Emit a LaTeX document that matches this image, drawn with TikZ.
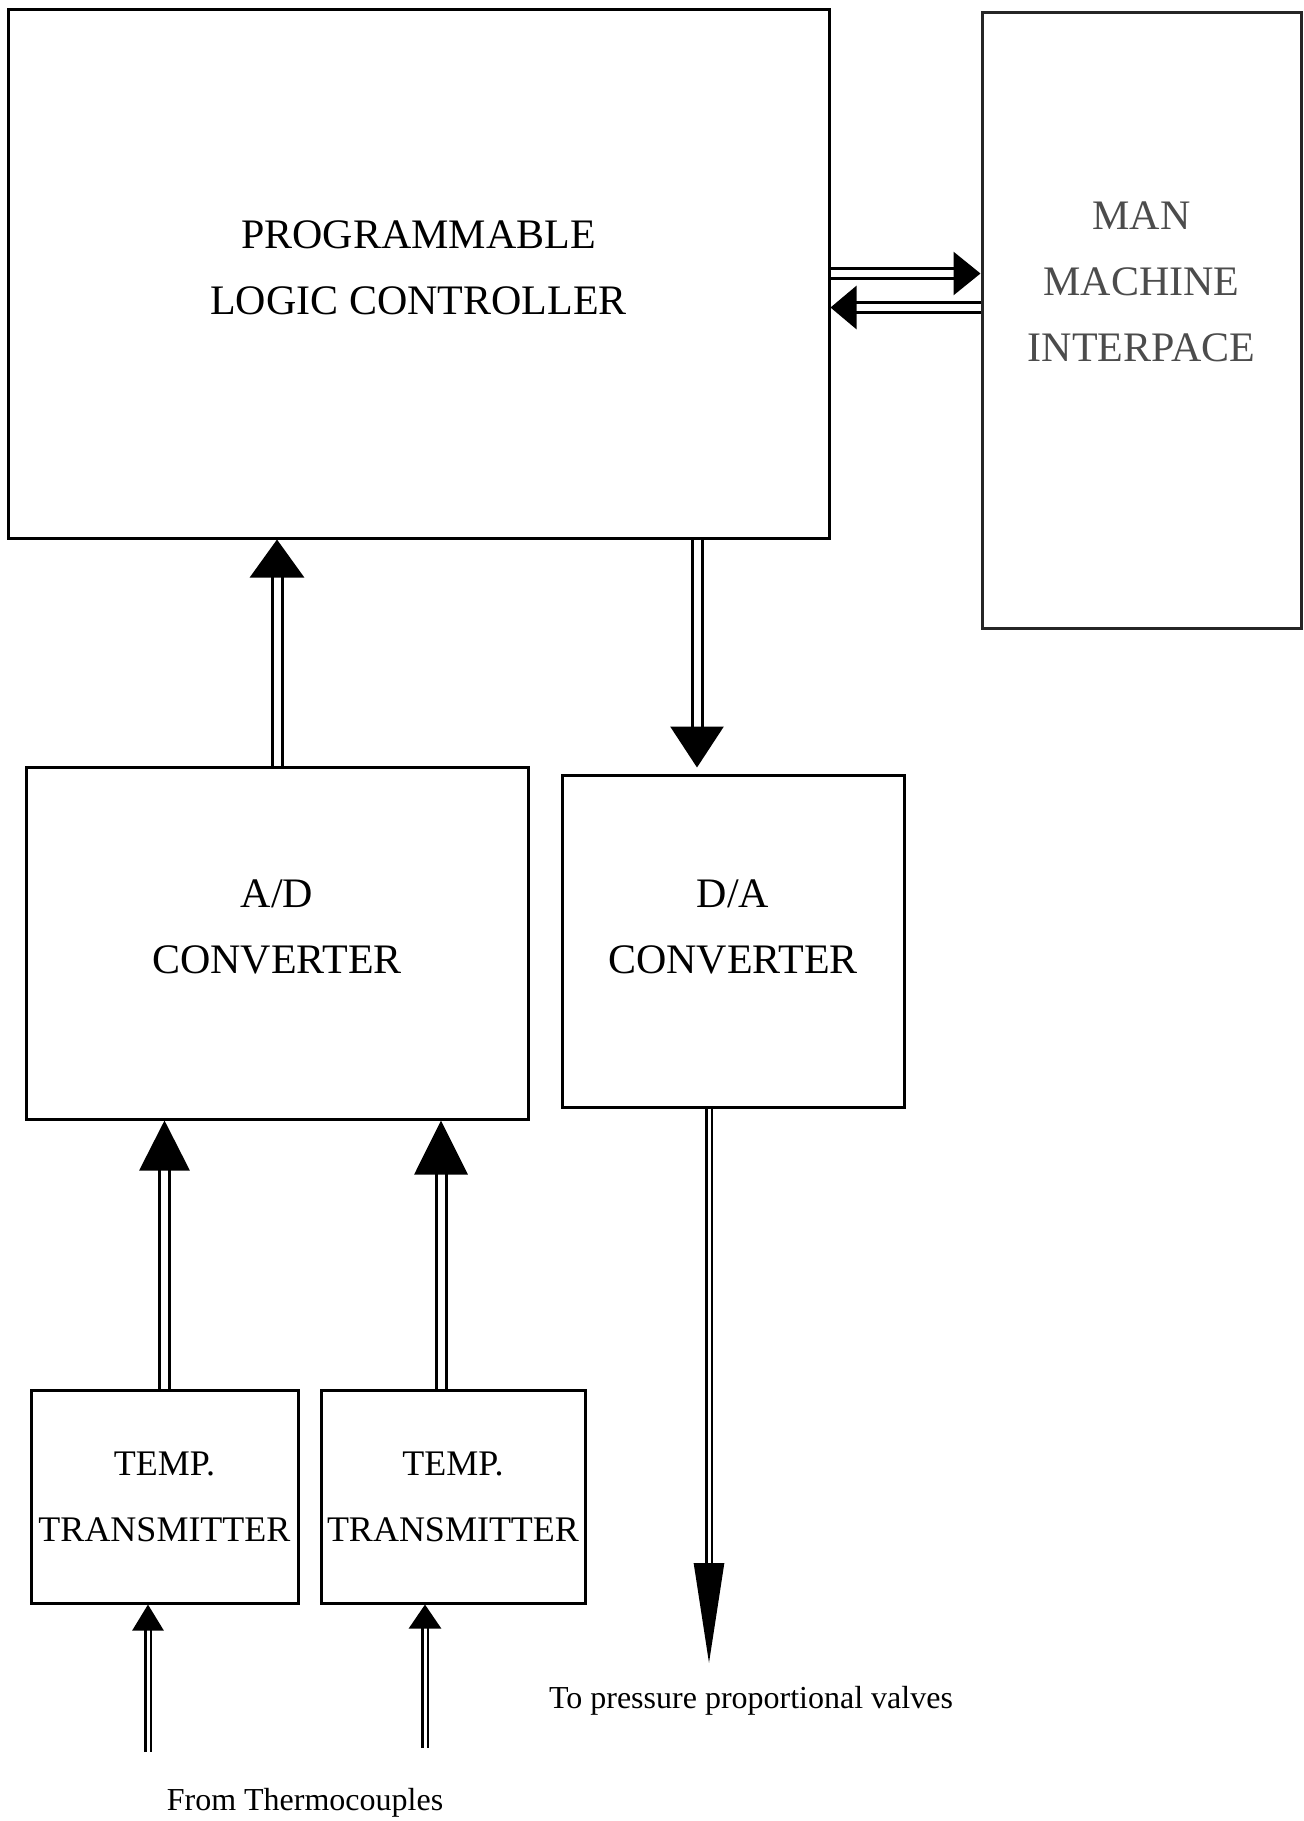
\documentclass[tikz,border=0pt]{standalone}
\usepackage{fontspec}
\setmainfont{Liberation Serif}
\usetikzlibrary{arrows.meta, positioning}

\begin{document}
\begin{tikzpicture}[
    x=0.5pt, y=-0.5pt,
    kotak/.style={draw, line width=1.5pt, inner sep=0pt},
    teks/.style={align=center, font=\fontsize{21}{33}\selectfont},
    kecil/.style={font=\fontsize{16}{20}\selectfont},
    panah/.style 2 args={double, double distance=3.5pt, line width=1.5pt,
                         -{Triangle[length=#1, width=#2]}},
    panahkecil/.style 2 args={double, double distance=1.5pt, line width=1.3pt,
                              -{Triangle[length=#1, width=#2]}}
  ]
    \useasboundingbox (0,0) rectangle (1303,1821);

    % kotak utama
    \node[kotak, minimum width=410.5pt, minimum height=264.5pt] (plc) at (418.5,273.5) {};
    \node[kotak, draw=black!85, minimum width=159.5pt, minimum height=308pt] (mmi) at (1141.5,320) {};
    \node[kotak, minimum width=251pt, minimum height=176pt] (ad) at (277,943) {};
    \node[kotak, minimum width=171pt, minimum height=166pt] (da) at (733,941) {};
    \node[kotak, minimum width=133.5pt, minimum height=106.5pt] (tt1) at (164.5,1496.5) {};
    \node[kotak, minimum width=132pt, minimum height=106.5pt] (tt2) at (453,1496.5) {};

    \node[teks] (plcteks) at ([yshift=3pt]plc.center) {PROGRAMMABLE\\LOGIC CONTROLLER};
    \node[teks, text=black!70] (mmiteks) at ([yshift=19pt]mmi.center) {MAN\\MACHINE\\INTERPACE};
    \node[teks] (adteks) at ([yshift=8pt]ad.center) {A/D\\CONVERTER};
    \node[teks] (dateks) at ([yshift=7pt]da.center) {D/A\\CONVERTER};
    \node[teks, font=\fontsize{18}{33}\selectfont] (tt1teks) at (tt1.center) {TEMP.\\TRANSMITTER};
    \node[teks, font=\fontsize{18}{33}\selectfont] (tt2teks) at (tt2.center) {TEMP.\\TRANSMITTER};

    % ujung bebas
    \coordinate (termo1) at (148,1752);
    \coordinate (termo2) at (425,1748);
    \coordinate (katup) at (709,1663);
    \node[kecil] (dari) at (305,1803) {From Thermocouples};
    \node[kecil] (ke) at (751,1701) {To pressure proportional valves};

    \coordinate (dain) at ([xshift=-18pt, yshift=3pt]da.north);
    \coordinate (balik) at ([yshift=-17pt]plc.east);
    \coordinate (tt2out) at ([xshift=-6pt]tt2.north);
    \coordinate (daout) at ([xshift=-12pt]da.south);

    % sinyal
    \draw[panah={19pt}{27pt}] (ad.north) -- (ad.north |- plc.south);
    \draw[panah={20.5pt}{26.5pt}] (dain |- plc.south) -- (dain);
    \draw[panah={13.5pt}{21.5pt}] (plc.east) -- (plc.east -| mmi.west);
    \draw[panah={13pt}{21.5pt}] (balik -| mmi.west) -- (balik);
    \draw[panah={25pt}{25pt}] (tt1.north) -- (tt1.north |- ad.south);
    \draw[panah={27pt}{26.5pt}] (tt2out) -- (tt2out |- ad.south);
    \draw[panahkecil={13pt}{15.5pt}] (termo1) -- (termo1 |- tt1.south);
    \draw[panahkecil={12pt}{16pt}] (termo2) -- (termo2 |- tt2.south);
    \draw[panahkecil={50pt}{15pt}] (daout) -- (katup);
  \end{tikzpicture}
\end{document}
